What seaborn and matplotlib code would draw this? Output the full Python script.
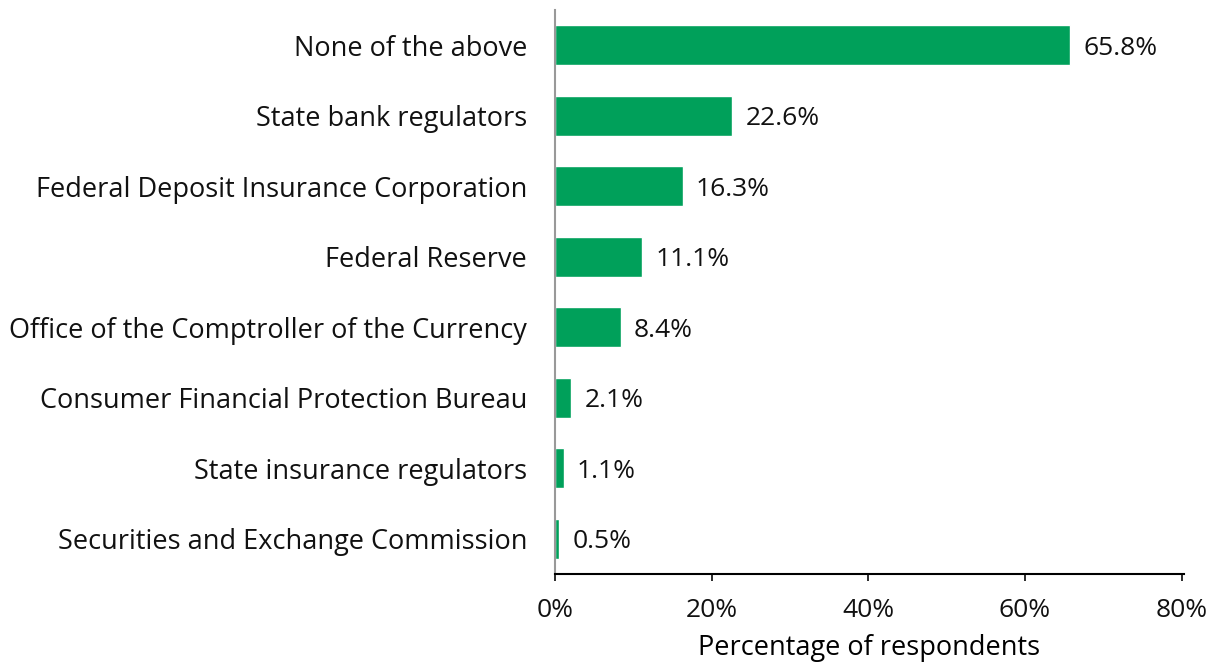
import numpy as np
import pandas as pd
import seaborn as sns
import matplotlib.pyplot as plt

# datos
categorias = ["None of the above", "State bank regulators",
              "Federal Deposit Insurance Corporation", "Federal Reserve",
              "Office of the Comptroller of the Currency",
              "Consumer Financial Protection Bureau",
              "State insurance regulators",
              "Securities and Exchange Commission"]
porcentajes = [65.8, 22.6, 16.3, 11.1, 8.4, 2.1, 1.1, 0.5]
ticks_x = [0, 20, 40, 60, 80]

df = pd.DataFrame({"categoria": categorias, "pct": porcentajes})

sns.set_theme(style="white")
plt.rcParams["font.family"] = ["Open Sans", "DejaVu Sans"]

fig = plt.figure(figsize=(12.16, 6.67), dpi=100)
ax = fig.add_axes([0.4564, 0.1394, 0.5173, 0.8456])

sns.barplot(data=df, x="pct", y="categoria", color="#00A05A",
            saturation=1, width=0.57, ax=ax)

for i, v in enumerate(porcentajes):
    ax.text(v + 1.7, i, f"{v}%", va="center_baseline", ha="left",
            fontsize=19, color="#111111")

ax.set_xlim(0, 80.3)
ax.set_xticks(ticks_x)
ax.set_xticklabels([f"{t}%" for t in ticks_x])
ax.set_xlabel("Percentage of respondents", fontsize=19.5, color="black",
              labelpad=8)
ax.set_ylabel("")
ax.tick_params(axis="x", labelsize=19, colors="#111111", length=5,
               direction="out", bottom=True, pad=12)
ax.tick_params(axis="y", labelsize=19.5, colors="#111111", length=0, pad=20)
for t in ax.get_xticklines():
    t.set_color("#999999")
for lab in ax.get_yticklabels():
    lab.set_verticalalignment("center_baseline")

sns.despine(ax=ax, top=True, right=True)
ax.spines["left"].set_color("#999999")
ax.spines["left"].set_linewidth(1.5)
ax.spines["bottom"].set_color("black")
ax.spines["bottom"].set_linewidth(1.5)

plt.savefig("out.png", dpi=100)
